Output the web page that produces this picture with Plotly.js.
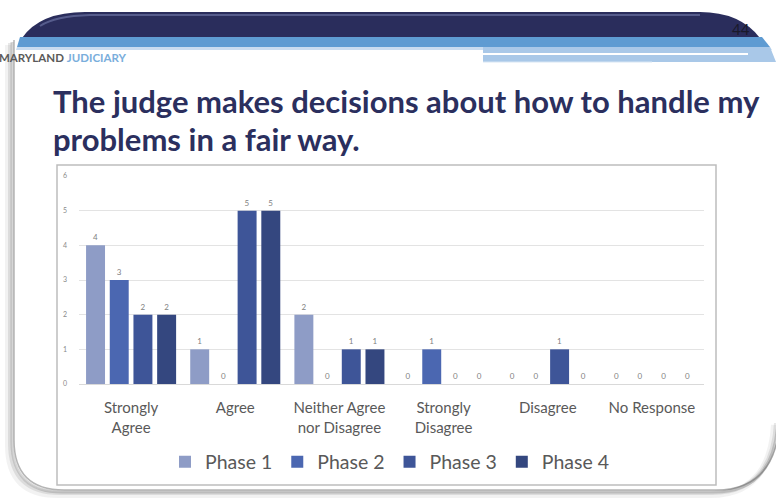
<!DOCTYPE html>
<html>
<head>
<meta charset="utf-8">
<script src="https://cdn.plot.ly/plotly-3.0.1.min.js"></script>
<style>html,body{margin:0;padding:0;background:#fff;}#chart{width:776px;height:500px;}</style>
</head>
<body>
<div id="chart"></div>
<script>
// ---- data ----
const categories = ["Strongly<br>Agree", "Agree", "Neither Agree<br>nor Disagree", "Strongly<br>Disagree", "Disagree", "No Response"];
const seriesNames = ["Phase 1", "Phase 2", "Phase 3", "Phase 4"];
const phase1 = [4, 1, 2, 0, 0, 0];
const phase2 = [3, 0, 0, 1, 0, 0];
const phase3 = [2, 5, 1, 0, 1, 0];
const phase4 = [2, 5, 1, 0, 0, 0];
const yTicks = [0, 1, 2, 3, 4, 5, 6];
const titleLines = ["The judge makes decisions about how to handle my", "problems in a fair way."];

// ---- styling ----
const colors = ["#8e9cc6", "#4b67b1", "#3e5598", "#34477f"];
const L = 79, R = 704, T = 176, B = 384, W = 776, H = 500;
const px = x => (x - L) / (R - L);
const py = y => (B - y) / (B - T);
function path(cmds) {
  return cmds.map(c => {
    const k = c[0]; let s = k;
    for (let i = 1; i < c.length; i += 2) s += (i > 1 ? ' ' : '') + px(c[i]).toFixed(4) + ',' + py(c[i + 1]).toFixed(4);
    return s;
  }).join(' ') + (cmds.closed === false ? '' : ' Z');
}
function open(cmds){ cmds.closed = false; return path(cmds); }

const allSeries = [phase1, phase2, phase3, phase4];
const traces = allSeries.map((vals, i) => ({
  type: 'bar', name: seriesNames[i], x: categories, y: vals,
  marker: { color: colors[i], line: { width: 0 } },
  text: vals.map(String), textposition: 'outside', cliponaxis: false,
  textfont: { family: 'Lato, sans-serif', size: 8, color: '#7f7f7f' },
  hoverinfo: 'skip'
}));

const shapes = [];
const slideOutline = (dx, dy) => open([
  ['M', 14 + dx, 40 + dy], ['L', 14 + dx, 440 + dy], ['Q', 14 + dx, 490 + dy, 64 + dx, 490 + dy],
  ['L', 716 + dx, 490 + dy], ['Q', 776 + dx, 490 + dy, 780 + dx, 420 + dy]
]);
[[-6, 5, 0.08, 6], [-4, 3, 0.14, 4], [-2, 2, 0.25, 3], [0, 0, 0.45, 1.5]].forEach(s => {
  shapes.push({ type: 'path', xref: 'paper', yref: 'paper', path: slideOutline(s[0], s[1]),
    line: { color: 'rgba(90,90,90,' + s[2] + ')', width: s[3] }, layer: 'below' });
});
shapes.push({ type: 'path', xref: 'paper', yref: 'paper', layer: 'below',
  path: path([['M', 22, 38], ['Q', 40, 12, 85, 12], ['L', 700, 12], ['Q', 740, 12, 760, 38]]),
  fillcolor: '#2a2d5c', line: { width: 0 } });
shapes.push({ type: 'path', xref: 'paper', yref: 'paper', layer: 'below',
  path: open([['M', 40, 26], ['Q', 55, 16, 90, 15], ['L', 700, 15]]),
  line: { color: 'rgba(140,150,200,0.45)', width: 2 } });
shapes.push({ type: 'path', xref: 'paper', yref: 'paper', layer: 'below',
  path: path([['M', 20, 37], ['L', 762, 37], ['L', 770, 47], ['L', 17, 47]]),
  fillcolor: '#5e9bd2', line: { width: 0 } });
shapes.push({ type: 'path', xref: 'paper', yref: 'paper', layer: 'below',
  path: path([['M', 17, 47], ['L', 770, 47], ['L', 772, 50], ['L', 16, 50]]),
  fillcolor: '#c9dcf0', line: { width: 0 } });
shapes.push({ type: 'path', xref: 'paper', yref: 'paper', layer: 'below',
  path: path([['M', 483, 47], ['L', 770, 47], ['L', 776, 62], ['L', 483, 62]]),
  fillcolor: '#a9c8e8', line: { width: 0 } });
shapes.push({ type: 'line', xref: 'paper', yref: 'paper', layer: 'below',
  x0: px(483), x1: px(748), y0: py(54), y1: py(54), line: { color: '#ffffff', width: 2 } });
shapes.push({ type: 'line', xref: 'paper', yref: 'paper', layer: 'below',
  x0: px(483), x1: px(652), y0: py(62), y1: py(62), line: { color: '#d7e6f4', width: 1 } });
shapes.push({ type: 'rect', xref: 'paper', yref: 'paper', layer: 'below',
  x0: px(57), x1: px(716), y0: py(485), y1: py(165),
  line: { color: '#bdbdbd', width: 1.5 }, fillcolor: 'rgba(0,0,0,0)' });

const titleFont = { family: 'Lato, sans-serif', size: 31, color: '#2b2f5e', weight: 'bold' };
const annotations = [
  { xref: 'paper', yref: 'paper', x: px(51), y: py(101), xanchor: 'left', yanchor: 'middle', showarrow: false,
    text: titleLines[0], font: titleFont },
  { xref: 'paper', yref: 'paper', x: px(51), y: py(139), xanchor: 'left', yanchor: 'middle', showarrow: false,
    text: titleLines[1], font: titleFont },
  { xref: 'paper', yref: 'paper', x: px(-3), y: py(57), xanchor: 'left', yanchor: 'middle', showarrow: false,
    text: '<b>MARYLAND</b> <b><span style="color:#7aaedc">JUDICIARY</span></b>',
    font: { family: 'Lato, sans-serif', size: 11.5, color: '#5a5a5a' } },
  { xref: 'paper', yref: 'paper', x: px(741), y: py(29), xanchor: 'center', yanchor: 'middle', showarrow: false,
    text: '44', font: { family: 'Lato, sans-serif', size: 15, color: '#1a1a2a' } }
];

const layout = {
  width: W, height: H,
  margin: { l: L, r: W - R, t: T, b: H - B, pad: 0 },
  paper_bgcolor: '#ffffff', plot_bgcolor: 'rgba(0,0,0,0)',
  barmode: 'group', bargap: 0.09, bargroupgap: 0.2,
  showlegend: true,
  legend: { orientation: 'h', x: px(390), xanchor: 'center', y: py(462), yanchor: 'middle',
    font: { family: 'Lato, sans-serif', size: 19.5, color: '#595959' }, itemwidth: 30, tracegroupgap: 0,
    bgcolor: 'rgba(0,0,0,0)' },
  xaxis: { type: 'category', tickfont: { family: 'Lato, sans-serif', size: 15, color: '#595959' },
    showgrid: false, zeroline: false, showline: false, ticks: '', ticklabelstandoff: 13, fixedrange: true },
  yaxis: { range: [0, 6], tickvals: yTicks, ticktext: yTicks.map(String), showgrid: true, gridcolor: '#e3e3e3',
    gridwidth: 1, zeroline: true, zerolinecolor: '#d9d9d9', zerolinewidth: 1, showline: false,
    tickfont: { family: 'Lato, sans-serif', size: 7, color: '#8a8a8a' }, ticks: '', ticklabelstandoff: 11, fixedrange: true },
  shapes: shapes, annotations: annotations
};

Plotly.newPlot('chart', traces, layout, { staticPlot: true, displayModeBar: false });
</script>
</body>
</html>
